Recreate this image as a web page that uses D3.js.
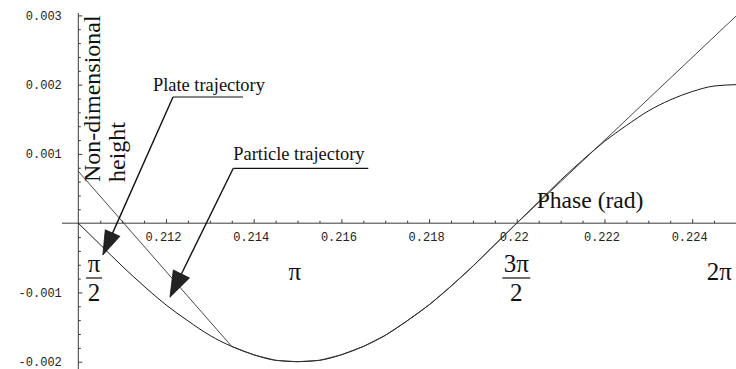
<!DOCTYPE html>
<html>
<head>
<meta charset="utf-8">
<script src="https://cdn.jsdelivr.net/npm/d3@7"></script>
<style>
  html, body { margin: 0; padding: 0; background: #fff; }
  svg { display: block; }
</style>
</head>
<body>
<svg id="chart" width="736" height="369"></svg>
<script>
// Plate displacement over one half-cycle of phase (non-dimensional height)
const platePhase = [0.2100, 0.2105, 0.2110, 0.2115, 0.2120, 0.2125, 0.2130, 0.2135,
  0.2140, 0.2145, 0.2150, 0.2155, 0.2160, 0.2165, 0.2170, 0.2175, 0.2180, 0.2185,
  0.2190, 0.2195, 0.2200, 0.2205, 0.2210, 0.2215, 0.2220, 0.2225, 0.2230, 0.2235,
  0.2240, 0.2245, 0.2250];
const plateHeight = [0.00000, -0.00031, -0.00062, -0.00091, -0.00118, -0.00141, -0.00162, -0.00178,
  -0.00190, -0.00198, -0.00200, -0.00198, -0.00190, -0.00178, -0.00162, -0.00141, -0.00118, -0.00091,
  -0.00062, -0.00031, 0.00000, 0.00031, 0.00062, 0.00091, 0.00118, 0.00141, 0.00162, 0.00178,
  0.00190, 0.00198, 0.00200];

// Particle: lands on the plate, rides with it, then lifts off again
const particlePhase = [0.2100, 0.2135, 0.2140, 0.2145, 0.2150, 0.2155, 0.2160, 0.2165,
  0.2170, 0.2175, 0.2180, 0.2185, 0.2190, 0.2195, 0.2200, 0.2250];
const particleHeight = [0.00075, -0.00178, -0.00190, -0.00198, -0.00200, -0.00198, -0.00190, -0.00178,
  -0.00162, -0.00141, -0.00118, -0.00091, -0.00062, -0.00031, 0.00000, 0.00299];

// Tick values and their printed labels
const xMajorTicks = [0.212, 0.214, 0.216, 0.218, 0.220, 0.222, 0.224];
const xMajorLabels = ["0.212", "0.214", "0.216", "0.218", "0.22", "0.222", "0.224"];
const yMajorTicks = [-0.002, -0.001, 0.001, 0.002, 0.003];
const yMajorLabels = ["-0.002", "-0.001", "0.001", "0.002", "0.003"];

// Phase landmarks printed under the axis
const phaseMarks = [
  { t: 0.21036, num: "π", den: "2" },
  { t: 0.21494, num: "π", den: null },
  { t: 0.21999, num: "3π", den: "2" },
  { t: 0.22462, num: "2π", den: null }
];

const svg = d3.select("#chart");
svg.append("rect").attr("width", 736).attr("height", 369).attr("fill", "#fff");

const x = d3.scaleLinear().domain([0.210, 0.225]).range([78.3, 736]);
const y = d3.scaleLinear().domain([-0.002, 0.003]).range([361.7, 15.4]);

const axisColor = "#3a3a3a";
const monoFont = "'Liberation Mono', 'DejaVu Sans Mono', monospace";
const serifFont = "'Liberation Serif', 'Times New Roman', serif";

// Axis lines crossing at (0.21, 0)
svg.append("line")
  .attr("x1", 62).attr("x2", 736)
  .attr("y1", y(0)).attr("y2", y(0))
  .attr("stroke", axisColor).attr("stroke-width", 1);
svg.append("line")
  .attr("x1", x(0.21)).attr("x2", x(0.21))
  .attr("y1", 13).attr("y2", 369)
  .attr("stroke", axisColor).attr("stroke-width", 1);

// Horizontal axis: major ticks with labels, minor ticks every 0.0005
const xMinorTicks = d3.range(0.2105, 0.2250, 0.0005)
  .filter(v => !xMajorTicks.some(m => Math.abs(m - v) < 1e-7));

const gxMinor = svg.append("g")
  .attr("transform", `translate(0,${y(0)})`)
  .call(d3.axisBottom(x).tickValues(xMinorTicks).tickSizeInner(-2.5).tickSizeOuter(0).tickFormat(""));
gxMinor.select(".domain").remove();

const gx = svg.append("g")
  .attr("transform", `translate(0,${y(0)})`)
  .call(d3.axisBottom(x).tickValues(xMajorTicks).tickSizeInner(-4).tickSizeOuter(0)
    .tickPadding(0).tickFormat((d, i) => xMajorLabels[i]));
gx.select(".domain").remove();
gx.selectAll(".tick text")
  .attr("y", 18.2).attr("dy", 0).attr("dx", -3)
  .attr("font-family", monoFont).attr("font-size", 12).attr("fill", "#222");

// Vertical axis: major ticks with labels, minor ticks every 0.0002
const yMinorTicks = d3.range(-0.0020, 0.00301, 0.0002)
  .filter(v => Math.abs(v) > 1e-8 && !yMajorTicks.some(m => Math.abs(m - v) < 1e-7));

const gyMinor = svg.append("g")
  .attr("transform", `translate(${x(0.21)},0)`)
  .call(d3.axisLeft(y).tickValues(yMinorTicks).tickSizeInner(-2.5).tickSizeOuter(0).tickFormat(""));
gyMinor.select(".domain").remove();

const gy = svg.append("g")
  .attr("transform", `translate(${x(0.21)},0)`)
  .call(d3.axisLeft(y).tickValues(yMajorTicks).tickSizeInner(-4).tickSizeOuter(0)
    .tickPadding(16.5).tickFormat((d, i) => yMajorLabels[i]));
gy.select(".domain").remove();
gy.selectAll(".tick text")
  .attr("font-family", monoFont).attr("font-size", 12).attr("fill", "#222");

svg.selectAll(".tick line").attr("stroke", axisColor);

// Trajectories
const plateLine = d3.line()
  .x((d, i) => x(platePhase[i]))
  .y(d => y(d))
  .curve(d3.curveMonotoneX);
svg.append("path")
  .attr("d", plateLine(plateHeight))
  .attr("fill", "none").attr("stroke", "#1a1a1a").attr("stroke-width", 1);

const particleLine = d3.line()
  .x((d, i) => x(particlePhase[i]))
  .y(d => y(d))
  .curve(d3.curveLinear);
svg.append("path")
  .attr("d", particleLine(particleHeight))
  .attr("fill", "none").attr("stroke", "#333").attr("stroke-width", 0.9);

// Axis titles
const yTitle = svg.append("g").attr("font-family", serifFont).attr("font-size", 24).attr("fill", "#111");
yTitle.append("text").attr("transform", "translate(100,182) rotate(-90)").text("Non-dimensional");
yTitle.append("text").attr("transform", "translate(125,182) rotate(-90)").text("height");

svg.append("text")
  .attr("x", 536.7).attr("y", 208.3)
  .attr("font-family", serifFont).attr("font-size", 23.6).attr("fill", "#111")
  .text("Phase (rad)");

// Phase landmarks
phaseMarks.forEach(m => {
  const g = svg.append("g").attr("font-family", serifFont).attr("fill", "#111").attr("text-anchor", "middle");
  const cx = x(m.t);
  if (m.den) {
    g.append("text").attr("x", cx).attr("y", 272).attr("font-size", 25).text(m.num);
    const w = m.num.length > 1 ? 14 : 8;
    g.append("line").attr("x1", cx - w).attr("x2", cx + w).attr("y1", 278).attr("y2", 278)
      .attr("stroke", "#111").attr("stroke-width", 1.2);
    g.append("text").attr("x", cx).attr("y", 301).attr("font-size", 25).text(m.den);
  } else {
    g.append("text").attr("x", cx).attr("y", 280).attr("font-size", 25).text(m.num);
  }
});

// Callouts with leader lines and arrowheads
const callouts = [
  { label: "Plate trajectory", textX: 153, textY: 90.7, ruleX1: 173, ruleX2: 243, ruleY: 97,
    tipT: 0.21056, tipH: -0.00046, headLen: 24, headHalf: 8 },
  { label: "Particle trajectory", textX: 233.3, textY: 160, ruleX1: 233.3, ruleX2: 368.3, ruleY: 168.3,
    tipT: 0.21209, tipH: -0.00107, headLen: 26, headHalf: 9 }
];

callouts.forEach(c => {
  const g = svg.append("g");
  g.append("text")
    .attr("x", c.textX).attr("y", c.textY)
    .attr("font-family", serifFont).attr("font-size", 18.4).attr("fill", "#111")
    .text(c.label);
  g.append("line")
    .attr("x1", c.ruleX1).attr("x2", c.ruleX2).attr("y1", c.ruleY).attr("y2", c.ruleY)
    .attr("stroke", "#111").attr("stroke-width", 1.2);
  const tx = x(c.tipT), ty = y(c.tipH);
  const dx = tx - c.ruleX1, dy = ty - c.ruleY;
  const len = Math.hypot(dx, dy);
  const ux = dx / len, uy = dy / len;
  const bx = tx - ux * c.headLen, by = ty - uy * c.headLen;
  g.append("line")
    .attr("x1", c.ruleX1).attr("y1", c.ruleY).attr("x2", bx).attr("y2", by)
    .attr("stroke", "#111").attr("stroke-width", 1.4);
  const px = -uy, py = ux;
  g.append("path")
    .attr("d", `M${tx},${ty}L${bx + px * c.headHalf},${by + py * c.headHalf}L${bx - px * c.headHalf},${by - py * c.headHalf}Z`)
    .attr("fill", "#222").attr("stroke", "#111").attr("stroke-width", 0.8);
});
</script>
</body>
</html>
